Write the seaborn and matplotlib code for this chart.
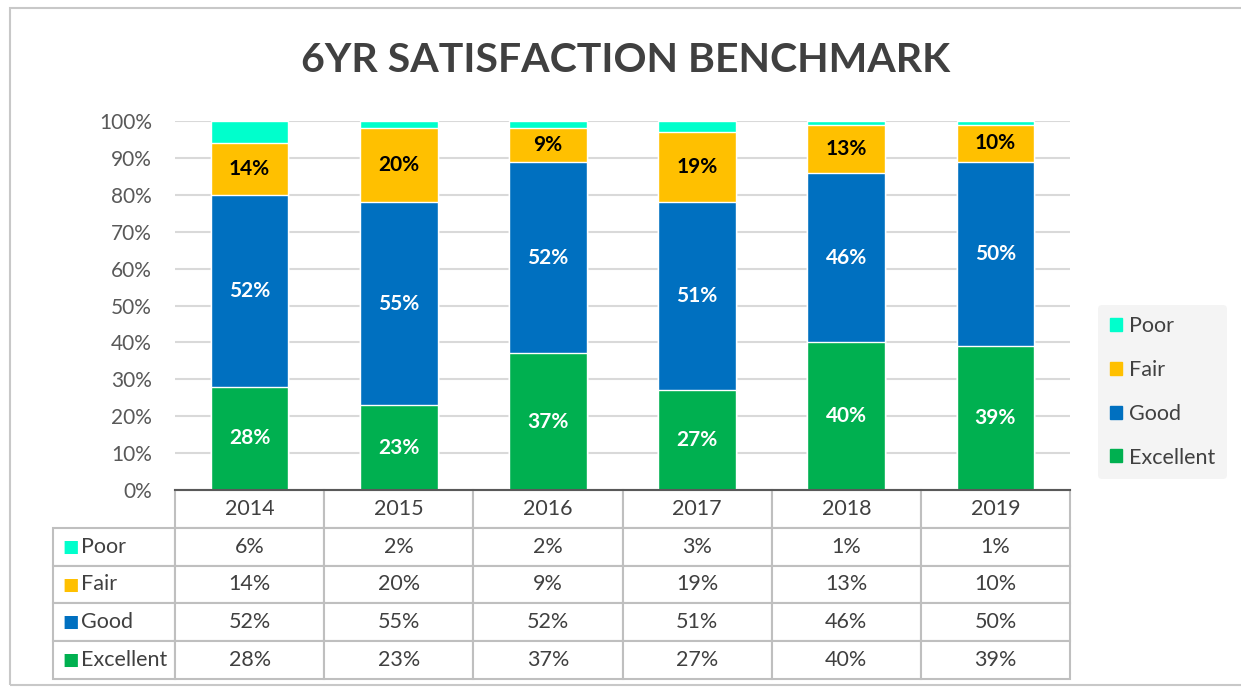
import matplotlib.pyplot as plt
import matplotlib.patches as mpatches
import numpy as np
import pandas as pd
import seaborn as sns

# data (percent)
years = ['2014', '2015', '2016', '2017', '2018', '2019']
categories = ['Poor', 'Fair', 'Good', 'Excellent']
poor = [6, 2, 2, 3, 1, 1]
fair = [14, 20, 9, 19, 13, 10]
good = [52, 55, 52, 51, 46, 50]
excellent = [28, 23, 37, 27, 40, 39]

colors = {'Poor': '#00FFCC', 'Fair': '#FFC000', 'Good': '#0070C0', 'Excellent': '#00B050'}
label_colors = {'Fair': 'black', 'Good': 'white', 'Excellent': 'white'}

sns.set_theme(style='white')
plt.rcParams['font.family'] = ['Lato', 'DejaVu Sans']

df = pd.DataFrame({'year': years, 'Poor': poor, 'Fair': fair,
                   'Good': good, 'Excellent': excellent})

# cumulative tops, bottom segment first
stack_order = ['Excellent', 'Good', 'Fair', 'Poor']
tops = df[stack_order].cumsum(axis=1)

fig = plt.figure(figsize=(12.41, 6.89), dpi=100)
ax = fig.add_axes([175 / 1241, 199 / 689, 895 / 1241, 369 / 689])

# outer chart border
fig.patches.append(mpatches.Rectangle((10 / 1241, 4 / 689), 1.2, 677 / 689,
                                      transform=fig.transFigure, fill=False,
                                      edgecolor='#c8c8c8', linewidth=1.5))

# draw tallest cumulative bars first so the lower ones sit on top
for cat in reversed(stack_order):
    sns.barplot(x=df['year'], y=tops[cat], color=colors[cat], width=0.52,
                saturation=1, errorbar=None, edgecolor='white', linewidth=1,
                ax=ax, zorder=3)

# segment labels
for cat in ['Excellent', 'Good', 'Fair']:
    for i, v in enumerate(df[cat]):
        mid = tops[cat][i] - v / 2
        ax.text(i, mid, f'{v}%', ha='center', va='center', fontsize=15,
                fontweight='bold', color=label_colors[cat], zorder=5)

ax.set_ylim(0, 100)
ax.set_xlim(-0.5, len(years) - 0.5)
ax.set_yticks(np.arange(0, 101, 10))
ax.set_yticklabels([f'{t}%' for t in range(0, 101, 10)])
ax.tick_params(axis='y', length=0, pad=16.5, labelsize=15, labelcolor='#595959')
ax.set_xticks([])
ax.set_xlabel('')
ax.set_ylabel('')
ax.yaxis.grid(True, color='#d9d9d9', linewidth=1.5, zorder=0)
ax.set_axisbelow(True)
for s in ['top', 'right', 'left']:
    ax.spines[s].set_visible(False)
ax.spines['bottom'].set_color('#595959')
ax.spines['bottom'].set_linewidth(1.5)
ax.spines['bottom'].set_zorder(6)

# data table underneath
cell_text = [[c] + [f'{v}%' for v in df[c]] for c in categories]
x0 = -122 / 895
tbl = ax.table(cellText=cell_text, colLabels=[''] + years,
               colWidths=[122] + [149] * len(years),
               cellLoc='center', bbox=[x0, -189 / 369, 1 - x0, 189 / 369])
tbl.auto_set_font_size(False)
for (r, c), cell in tbl.get_celld().items():
    cell.set_edgecolor('#bfbfbf')
    cell.set_linewidth(1.5)
    cell.set_text_props(color='#404040', fontsize=15.5)
    if r == 0 and c == 0:
        cell.visible_edges = ''
    if c == 0 and r > 0:
        cell.set_text_props(ha='left')
        cell.PAD = 0.23

# colour keys in the row label column
row_h = 189 / 369 / 5
for k, c in enumerate(categories):
    yc = -189 / 369 + row_h * (3.5 - k)
    ax.text((62 - 175) / 895, yc, '■', transform=ax.transAxes, ha='left',
            va='center', fontsize=12.5, color=colors[c], clip_on=False,
            family='DejaVu Sans')

# legend at right
handles = [mpatches.Patch(color=colors[c], label=c) for c in categories]
leg = fig.legend(handles=handles, loc='center left',
                 bbox_to_anchor=(1098 / 1241, 297 / 689), frameon=True,
                 borderaxespad=0, fontsize=15.5, handlelength=0.55,
                 handleheight=0.55, handletextpad=0.35, labelspacing=1.1,
                 borderpad=0.55)
leg.get_frame().set_facecolor('#f2f2f2')
leg.get_frame().set_edgecolor('none')
for t in leg.get_texts():
    t.set_color('#404040')

fig.text(626 / 1241, 628 / 689, '6YR SATISFACTION BENCHMARK', ha='center',
         va='center', fontsize=29.5, fontweight='bold', color='#404040')

fig.savefig('out.png', dpi=100)
